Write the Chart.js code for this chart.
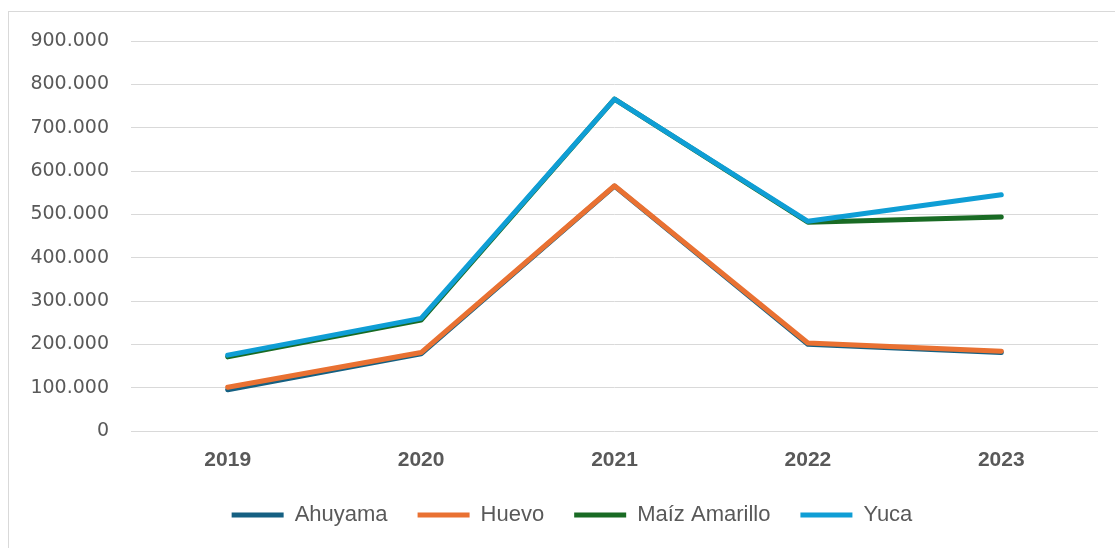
<!DOCTYPE html>
<html>
<head>
<meta charset="utf-8">
<script src="https://cdn.jsdelivr.net/npm/chart.js@4.4.1/dist/chart.umd.min.js"></script>
<style>
  html, body { margin: 0; padding: 0; background: #fff; overflow: hidden; width: 1115px; height: 548px; }
  #frame { position: absolute; left: 8px; top: 11px; width: 1200px; height: 600px;
           border-left: 1px solid #d9d9d9; border-top: 1px solid #d9d9d9; }
  #wrap { position: absolute; left: 0; top: 0; width: 1126px; height: 524px; }
</style>
</head>
<body>
<div id="frame"><div id="wrap"><canvas id="chart"></canvas></div></div>
<script>
const years = ['2019', '2020', '2021', '2022', '2023'];
const ahuyama = [95000, 178000, 565000, 200000, 181000];
const huevo = [101000, 181000, 566000, 203000, 184000];
const maizAmarillo = [171000, 256000, 766000, 482000, 494000];
const yuca = [175000, 260000, 766000, 484000, 545000];
const yTicks = [0, 100000, 200000, 300000, 400000, 500000, 600000, 700000, 800000, 900000];

const fmt = v => String(v).replace(/\B(?=(\d{3})+(?!\d))/g, '.');

const line = (label, data, color, order) => ({
  label, data, order,
  borderColor: color,
  backgroundColor: color,
  borderWidth: 5,
  borderCapStyle: 'round',
  borderJoinStyle: 'round',
  pointRadius: 0,
  pointHoverRadius: 0,
  tension: 0,
  fill: false
});

// fixed sizes so the plot area lands where the reference has it
const fixWidth = w => s => { s.width = w; s.paddingTop = 0; s.paddingBottom = 0; };

new Chart(document.getElementById('chart'), {
  type: 'line',
  data: {
    labels: years,
    datasets: [
      line('Ahuyama', ahuyama, '#156082', 4),
      line('Huevo', huevo, '#E97132', 3),
      line('Maíz Amarillo', maizAmarillo, '#196B24', 2),
      line('Yuca', yuca, '#0F9ED5', 1)
    ]
  },
  options: {
    responsive: true,
    maintainAspectRatio: false,
    animation: false,
    layout: { padding: { top: 29, left: 0, right: 0, bottom: 0 } },
    plugins: {
      tooltip: { enabled: false },
      legend: {
        position: 'bottom',
        labels: {
          usePointStyle: true,
          pointStyle: 'line',
          pointStyleWidth: 52,
          padding: 30,
          color: '#595959',
          font: { family: 'Liberation Sans', size: 22 },
          sort: (a, b) => a.datasetIndex - b.datasetIndex
        }
      }
    },
    scales: {
      x: {
        offset: true,
        grid: { display: false, drawTicks: false },
        border: { display: false },
        ticks: { color: '#595959', padding: 17, font: { family: 'Liberation Sans', size: 21, weight: 'bold' } },
        afterFit(s) { s.height = 43; }
      },
      y: {
        min: 0, max: 900000,
        afterBuildTicks(s) { s.ticks = yTicks.map(v => ({ value: v })); },
        grid: { color: '#d9d9d9', lineWidth: 1, drawTicks: false },
        border: { display: false },
        ticks: { color: '#595959', padding: 22, font: { family: 'DejaVu Sans', size: 19 }, callback: v => fmt(v) },
        afterFit: fixWidth(122)
      },
      y2: {
        position: 'right',
        display: true,
        grid: { display: false, drawTicks: false },
        border: { display: false },
        ticks: { display: false },
        afterFit: fixWidth(37)
      }
    }
  }
});
</script>
</body>
</html>
